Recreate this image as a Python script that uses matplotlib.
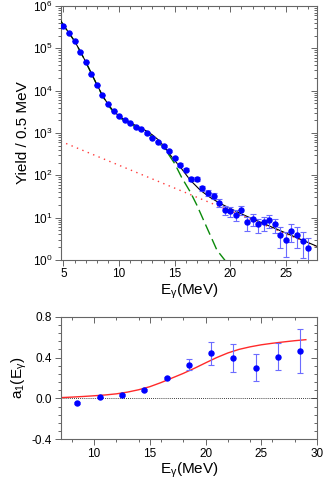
"""Gamma yield spectrum and a1 angular coefficient, two stacked panels."""

import numpy as np
import matplotlib
matplotlib.use("Agg")
import matplotlib.pyplot as plt
from matplotlib.ticker import MultipleLocator, LogLocator, NullFormatter

plt.rcParams["font.family"] = ["Liberation Sans", "DejaVu Sans"]
plt.rcParams["mathtext.fontset"] = "custom"
plt.rcParams["mathtext.rm"] = "Liberation Sans"
plt.rcParams["mathtext.it"] = "Liberation Sans"
plt.rcParams["axes.unicode_minus"] = False

# --- top panel: yield spectrum -------------------------------------------
energy = np.arange(5.0, 27.01, 0.5)
yields = [3.35e5, 2.3e5, 1.46e5, 8.4e4, 4.7e4, 2.5e4, 1.37e4, 7.8e3, 4.9e3,
          3.3e3, 2.47e3, 2.02e3, 1.72e3, 1.38e3, 1.22e3, 1.0e3, 777, 625,
          486, 375, 254, 180, 137, 83, 83, 49, 38.6, 33, 22.4, 15.2,
          14.2, 11.6, 15.3, 7.7, 9.4, 6.9, 7.7, 8.7, 6.9, 3.9, 2.9, 4.8,
          3.9, 2.8, 1.9]
yield_err = [580, 480, 380, 290, 217, 158, 117, 88, 70, 57, 50, 45, 41, 37,
             35, 32, 28, 25, 22, 19, 16, 13.4, 11.7, 9.1, 9.1, 7.0, 6.2, 5.7,
             4.7, 3.9, 3.8, 3.4, 3.9, 2.8, 3.1, 2.6, 2.8, 2.9, 2.6, 2.0, 1.7,
             2.2, 2.0, 1.7, 1.4]

# total fit (black)
fit_e = [4.75, 5.0, 5.5, 6.0, 6.5, 7.0, 7.5, 8.0, 8.5, 9.0, 9.5, 10.0, 10.5,
         11.0, 11.5, 12.0, 12.5, 13.0, 13.5, 14.0, 14.5, 15.0, 15.5, 16.4,
         17.3, 18.2, 19.1, 20.0, 20.9, 21.8, 27.8]
fit_y = [4.5e5, 3.5e5, 2.3e5, 1.48e5, 8.6e4, 4.8e4, 2.6e4, 1.4e4, 7.8e3,
         4.8e3, 3.3e3, 2.5e3, 2.05e3, 1.75e3, 1.5e3, 1.3e3, 1.1e3, 900, 700,
         500, 330, 223, 158, 77, 44.6, 29.9, 21.6, 16.5, 12.6, 9.9, 2.1]

# GDR component (green dashed)
gdr_e = [4.75, 5.0, 5.5, 6.0, 6.5, 7.0, 7.5, 8.0, 8.5, 9.0, 9.5, 10.0, 11.0,
         12.0, 13.0, 14.1, 15.0, 15.6, 16.4, 17.0, 17.6, 18.2, 18.8, 19.5,
         19.8]
gdr_y = [4.5e5, 3.5e5, 2.3e5, 1.47e5, 8.5e4, 4.75e4, 2.58e4, 1.38e4, 7.6e3,
         4.6e3, 3.1e3, 2.33e3, 1.62e3, 1.19e3, 818, 429, 190, 92, 40.6, 19.7,
         8.7, 3.86, 1.71, 1.0, 0.75]

# exponential background (red dotted)
bg_e = [4.75, 27.8]
bg_y = [637, 2.07]

# --- bottom panel: a1 coefficient ----------------------------------------
a1_e = [8.5, 10.5, 12.5, 14.5, 16.5, 18.5, 20.5, 22.5, 24.5, 26.5, 28.5]
a1 = [-0.045, 0.010, 0.029, 0.078, 0.199, 0.332, 0.443, 0.394, 0.302, 0.41,
      0.465]
a1_err = [0.008, 0.008, 0.01, 0.01, 0.012, 0.052, 0.114, 0.137, 0.135, 0.132,
          0.215]

a1_fit_e = [7, 8, 9, 10, 11, 12, 13, 14, 15, 16, 17, 18, 19, 20, 21, 22, 23,
            24, 25, 26, 27, 28, 29]
a1_fit = [0.008, 0.013, 0.019, 0.026, 0.034, 0.045, 0.062, 0.085, 0.115,
          0.155, 0.2, 0.245, 0.295, 0.348, 0.4, 0.445, 0.48, 0.505, 0.525,
          0.54, 0.553, 0.565, 0.575]

SPINE = "#666666"
PT_BLUE = "#0000ff"
ERR_BLUE = "#6c6cff"


def style_axes(ax):
    for sp in ax.spines.values():
        sp.set_color(SPINE)
        sp.set_linewidth(0.8)
    ax.tick_params(which="both", direction="out", color=SPINE, width=0.7,
                   labelsize=8.5, pad=2)
    ax.tick_params(which="major", length=4)
    ax.tick_params(which="minor", length=2.2)


def inner_ticks(ax, xmajor, xminor, log_y=False, ymajor=None, yminor=None):
    top = ax.secondary_xaxis("top")
    top.xaxis.set_major_locator(MultipleLocator(xmajor))
    top.xaxis.set_minor_locator(MultipleLocator(xminor))
    right = ax.secondary_yaxis("right")
    if log_y:
        right.yaxis.set_major_locator(LogLocator(base=10, numticks=10))
        right.yaxis.set_minor_locator(LogLocator(base=10, subs=np.arange(2, 10), numticks=20))
    else:
        right.yaxis.set_major_locator(MultipleLocator(ymajor))
        right.yaxis.set_minor_locator(MultipleLocator(yminor))
    for sec in (top, right):
        sec.tick_params(which="both", direction="in", color=SPINE, width=0.7,
                        labeltop=False, labelright=False)
        sec.tick_params(which="major", length=4)
        sec.tick_params(which="minor", length=2.2)
        for sp in sec.spines.values():
            sp.set_visible(False)


fig = plt.figure(figsize=(3.27, 4.91), dpi=100)
ax1 = fig.add_axes([0.1856, 0.4705, 0.7838, 0.5173])
ax2 = fig.add_axes([0.1856, 0.1053, 0.7838, 0.2497])

# top
ax1.set_yscale("log")
ax1.plot(bg_e, bg_y, color="#ff3b3b", lw=1.0, ls=(0, (1, 3.2)), zorder=2)
ax1.plot(gdr_e, gdr_y, color="#0a8a0a", lw=1.0, ls=(0, (8, 3.5)), zorder=3)
ax1.plot(fit_e, fit_y, color="black", lw=0.8, zorder=3)
ax1.errorbar(energy, yields, yerr=yield_err, fmt="o", ms=3.6, color=PT_BLUE,
             ecolor=ERR_BLUE, elinewidth=0.8, capsize=2.2, capthick=0.8,
             zorder=4)
ax1.set_xlim(4.75, 27.8)
ax1.set_ylim(1, 1e6)
ax1.xaxis.set_major_locator(MultipleLocator(5))
ax1.xaxis.set_minor_locator(MultipleLocator(1))
ax1.yaxis.set_major_locator(LogLocator(base=10, numticks=10))
ax1.yaxis.set_minor_locator(LogLocator(base=10, subs=np.arange(2, 10), numticks=20))
ax1.yaxis.set_minor_formatter(NullFormatter())
style_axes(ax1)
inner_ticks(ax1, 5, 1, log_y=True)
ax1.set_xlabel(r"E$_\mathrm{\gamma}$(MeV)", fontsize=11, labelpad=1)
ax1.set_ylabel("Yield / 0.5 MeV", fontsize=11, labelpad=2)

# bottom
ax2.axhline(0, color="black", lw=0.6, ls=(0, (1, 1.5)), zorder=1)
ax2.plot(a1_fit_e, a1_fit, color="#ff2a2a", lw=1.0, zorder=2)
ax2.errorbar(a1_e, a1, yerr=a1_err, fmt="o", ms=3.6, color=PT_BLUE,
             ecolor=ERR_BLUE, elinewidth=0.8, capsize=2.2, capthick=0.8,
             zorder=4)
ax2.set_xlim(7, 30)
ax2.set_ylim(-0.4, 0.8)
ax2.xaxis.set_major_locator(MultipleLocator(5))
ax2.xaxis.set_minor_locator(MultipleLocator(2))
ax2.yaxis.set_major_locator(MultipleLocator(0.4))
ax2.yaxis.set_minor_locator(MultipleLocator(0.08))
ax2.yaxis.set_major_formatter(plt.FuncFormatter(lambda v, p: f"{v:.1f}"))
style_axes(ax2)
inner_ticks(ax2, 5, 2, ymajor=0.4, yminor=0.08)
ax2.set_xlabel(r"E$_\mathrm{\gamma}$(MeV)", fontsize=11, labelpad=1)
ax2.set_ylabel(r"a$_1$(E$_\mathrm{\gamma}$)", fontsize=11, labelpad=2)

fig.savefig("out.png", dpi=100)
